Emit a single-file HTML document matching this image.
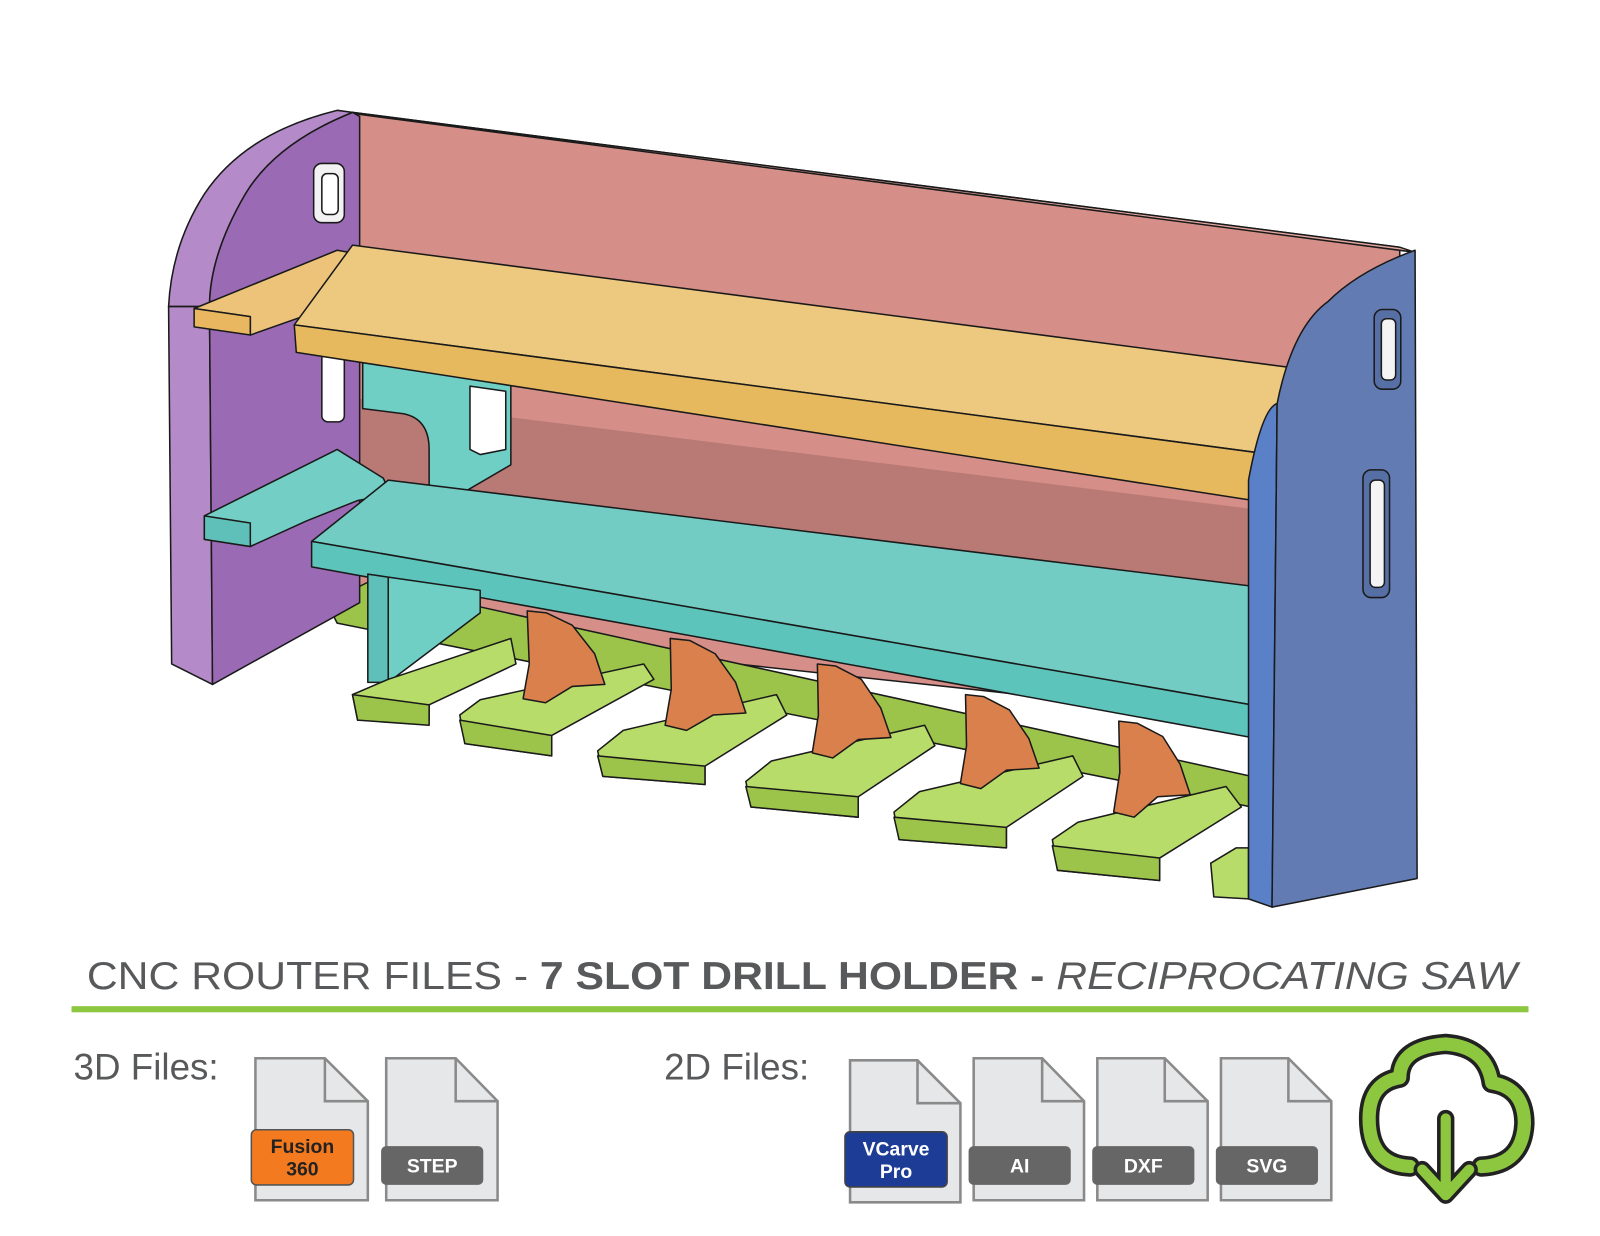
<!DOCTYPE html>
<html><head><meta charset="utf-8"><style>html,body{margin:0;padding:0;background:#fff}svg{display:block}</style></head>
<body>
<svg width="1600" height="1236" viewBox="0 0 1566 1210" preserveAspectRatio="none" xmlns="http://www.w3.org/2000/svg" font-family="Liberation Sans, sans-serif">
<rect width="1566" height="1210" fill="#fff"/>
<g stroke="#1a1a1a" stroke-width="1.5" stroke-linejoin="round">
<polygon points="345,110 1370,242 1370,720 350,610" fill="#d58f88"/>
<polygon points="345,110 1370,242 1385,247 352,112" fill="#e3a79f"/>
<polygon points="350,390 1240,500 1240,600 350,560" fill="#b97a76" stroke="none"/>
<polygon points="320,590 360,570 1225,760 1225,790 330,610" fill="#9cc44a"/>
<polygon points="205,300 208,670 168,650 165,300" fill="#b48bc8"/>
<path d="M205,300 Q205,250 240,190 Q270,140 345,110 L352,114 L352,590 L208,670 Z" fill="#9b6ab5"/>
<path d="M165,300 Q168,240 200,190 Q240,130 330,108 L345,110 Q270,140 240,190 Q205,250 205,300 Z" fill="#b48bc8"/>
<rect x="307" y="160" width="30" height="58" rx="8" fill="#f2f2f2"/>
<rect x="315" y="170" width="16" height="40" rx="5" fill="#fff"/>
<rect x="315" y="345" width="22" height="68" rx="6" fill="#fff"/>
<path d="M355,355 L500,375 L500,455 L440,490 L420,490 L420,440 Q420,410 395,405 L355,400 Z" fill="#6fcfc5"/>
<path d="M460,378 L495,383 L495,440 L470,445 L460,440 Z" fill="#fff"/>
<path d="M190,302 L330,245 L370,252 Q395,262 375,270 L330,290 L310,305 L245,328 L245,310 L190,302 Z" fill="#edc37a"/>
<polygon points="190,302 245,310 245,328 190,320" fill="#e8b75f"/>
<polygon points="288,318 345,240 1265,360 1245,445" fill="#edc87f"/>
<polygon points="288,318 1245,445 1240,492 290,345" fill="#e6b95f"/>
<path d="M200,505 L330,440 L375,468 Q385,485 350,490 L300,510 L245,535 L200,528 Z" fill="#73cfc6"/>
<polygon points="200,505 245,512 245,535 200,528" fill="#5ec0b8"/>
<polygon points="305,530 380,470 1235,575 1225,690" fill="#72ccc3"/>
<polygon points="305,530 1225,690 1225,722 305,555" fill="#5dc4bc"/>
<polygon points="360,562 380,565 380,668 360,668" fill="#5ec0b8"/>
<polygon points="380,565 470,578 470,600 380,668" fill="#6fcfc5"/>
<g fill="#b7dc6a">
<path d="M345,680 L380,665 L500,625 L505,650 L420,690 L420,705 L350,705 Z"/>
<path d="M450,700 L470,685 L630,650 L640,665 L540,720 L540,740 L455,728 Z"/>
<path d="M585,735 L610,715 L760,680 L770,700 L690,750 L690,768 L590,760 Z"/>
<path d="M730,765 L755,745 L905,710 L915,730 L840,780 L840,800 L735,790 Z"/>
<path d="M875,795 L900,775 L1050,740 L1060,760 L985,810 L985,830 L880,822 Z"/>
<path d="M1030,822 L1055,805 L1200,770 L1215,790 L1135,840 L1135,862 L1035,852 Z"/>
<path d="M1185,845 L1210,830 L1222,830 L1222,880 L1188,878 Z"/>
</g>
<g fill="#9cc44a">
<polygon points="345,680 420,690 420,710 350,705"/>
<polygon points="450,705 540,720 540,740 455,728"/>
<polygon points="585,740 690,750 690,768 590,760"/>
<polygon points="730,770 840,780 840,800 735,790"/>
<polygon points="875,800 985,810 985,830 880,822"/>
<polygon points="1030,828 1135,840 1135,862 1035,852"/>
</g>
<g fill="#d9804c">
<path d="M516,598 L535,600 L560,612 L582,640 L592,670 L560,672 L534,688 L512,684 L518,650 Z"/>
<path d="M656,625 L675,627 L700,640 L720,668 L730,698 L698,700 L672,715 L651,710 L657,675 Z"/>
<path d="M800,650 L818,652 L843,665 L862,693 L872,722 L840,724 L815,742 L795,737 L801,700 Z"/>
<path d="M945,680 L963,682 L988,695 L1007,723 L1017,752 L985,754 L960,772 L940,767 L946,730 Z"/>
<path d="M1095,706 L1113,708 L1138,721 L1155,748 L1165,778 L1133,780 L1110,800 L1090,795 L1096,756 Z"/>
</g>
<path d="M1222,880 L1222,470 Q1235,400 1250,395 L1245,888 Z" fill="#5a80c8"/>
<path d="M1250,395 Q1265,320 1300,295 Q1330,265 1385,245 L1387,860 L1245,888 Z" fill="#627cb3"/>
<rect x="1345" y="303" width="26" height="78" rx="8" fill="#5670a6"/>
<rect x="1352" y="312" width="14" height="60" rx="5" fill="#f4f4f4"/>
<rect x="1334" y="460" width="26" height="125" rx="8" fill="#5670a6"/>
<rect x="1341" y="470" width="14" height="105" rx="5" fill="#f4f4f4"/>
</g>
<text x="85" y="968" font-size="38" fill="#58595b" textLength="1400" lengthAdjust="spacingAndGlyphs">CNC ROUTER FILES - <tspan font-weight="bold">7 SLOT DRILL HOLDER -</tspan> <tspan font-style="italic">RECIPROCATING SAW</tspan></text>
<rect x="70" y="985" width="1426" height="6" fill="#8dc63f"/>
<text x="72" y="1057" font-size="36" fill="#58595b">3D Files:</text>
<text x="650" y="1057" font-size="36" fill="#58595b">2D Files:</text>
<g stroke="#8a8a8a" stroke-width="2.5" fill="#e6e7e8">
<path d="M250,1036 L318,1036 L360,1078 L360,1175 L250,1175 Z"/><path d="M318,1036 L318,1078 L360,1078" fill="none"/>
<path d="M378,1036 L446,1036 L487,1078 L487,1175 L378,1175 Z"/><path d="M446,1036 L446,1078 L487,1078" fill="none"/>
<path d="M832,1038 L898,1038 L940,1080 L940,1177 L832,1177 Z"/><path d="M898,1038 L898,1080 L940,1080" fill="none"/>
<path d="M953,1036 L1020,1036 L1061,1078 L1061,1175 L953,1175 Z"/><path d="M1020,1036 L1020,1078 L1061,1078" fill="none"/>
<path d="M1074,1036 L1140,1036 L1182,1078 L1182,1175 L1074,1175 Z"/><path d="M1140,1036 L1140,1078 L1182,1078" fill="none"/>
<path d="M1195,1036 L1261,1036 L1303,1078 L1303,1175 L1195,1175 Z"/><path d="M1261,1036 L1261,1078 L1303,1078" fill="none"/>
</g>
<g font-weight="bold" font-size="19" text-anchor="middle">
<rect x="246" y="1106" width="100" height="54" rx="5" fill="#f47a20" stroke="#555" stroke-width="1.5"/>
<text x="296" y="1129" fill="#222">Fusion</text><text x="296" y="1151" fill="#222">360</text>
<rect x="373" y="1122" width="100" height="38" rx="5" fill="#666"/><text x="423" y="1148" fill="#fff">STEP</text>
<rect x="827" y="1108" width="100" height="54" rx="5" fill="#1d3c96" stroke="#444" stroke-width="1.5"/>
<text x="877" y="1131" fill="#fff">VCarve</text><text x="877" y="1153" fill="#fff">Pro</text>
<rect x="948" y="1122" width="100" height="38" rx="5" fill="#666"/><text x="998" y="1148" fill="#fff">AI</text>
<rect x="1069" y="1122" width="100" height="38" rx="5" fill="#666"/><text x="1119" y="1148" fill="#fff">DXF</text>
<rect x="1190" y="1122" width="100" height="38" rx="5" fill="#666"/><text x="1240" y="1148" fill="#fff">SVG</text>
</g>
<g fill="none" stroke-linejoin="round" stroke-linecap="round">
<path d="M1380,1142 Q1340,1140 1340,1095 Q1340,1060 1370,1055 Q1370,1025 1415,1022 Q1455,1025 1460,1060 Q1492,1065 1492,1100 Q1490,1140 1450,1142" stroke="#222" stroke-width="20"/>
<path d="M1380,1142 Q1340,1140 1340,1095 Q1340,1060 1370,1055 Q1370,1025 1415,1022 Q1455,1025 1460,1060 Q1492,1065 1492,1100 Q1490,1140 1450,1142" stroke="#8dc63f" stroke-width="13"/>
<path d="M1415,1095 L1415,1168 M1392,1145 L1415,1170 L1438,1145" stroke="#222" stroke-width="17"/>
<path d="M1415,1095 L1415,1168 M1392,1145 L1415,1170 L1438,1145" stroke="#8dc63f" stroke-width="10"/>
</g>
</svg>
</body></html>
